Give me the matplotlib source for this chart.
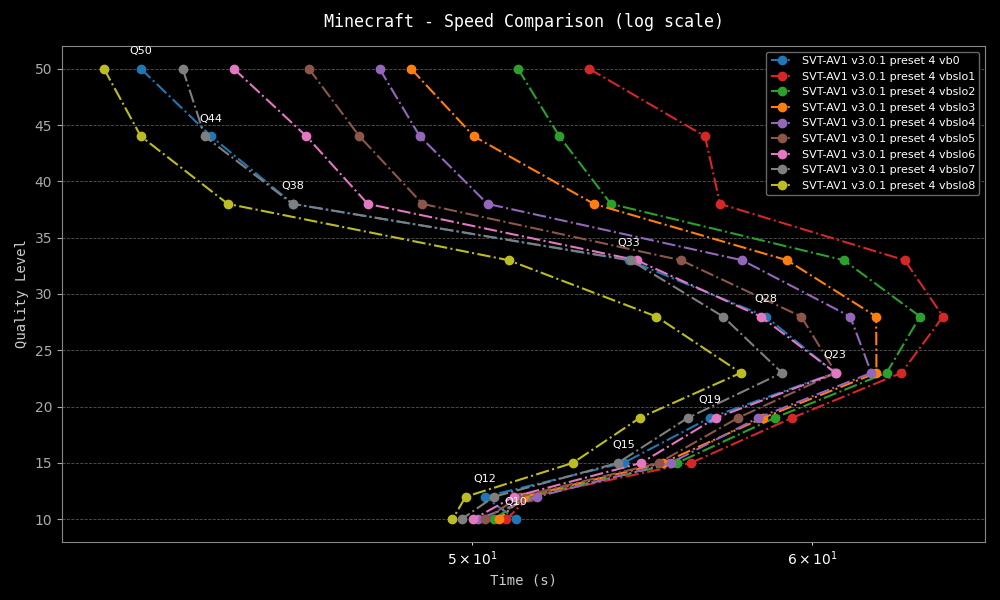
import matplotlib
matplotlib.use("Agg")
import matplotlib.pyplot as plt

# quality levels (y) shared by every encoder run
quality = [50, 44, 38, 33, 28, 23, 19, 15, 12, 10]

# encode times in seconds
vb0 = [41.85, 43.46, 45.41, 54.38, 58.53, 60.74, 56.79, 54.23, 50.33, 51.18]
vbslo1 = [53.23, 56.65, 57.11, 63.06, 64.37, 62.95, 59.36, 56.22, 51.56, 50.92]
vbslo2 = [51.24, 52.39, 53.86, 61.03, 63.58, 62.45, 58.81, 55.81, 51.48, 50.58]
vbslo3 = [48.38, 50.04, 53.37, 59.20, 62.10, 62.11, 58.44, 55.38, 51.40, 50.71]
vbslo4 = [47.57, 48.61, 50.41, 57.79, 61.24, 61.94, 58.28, 55.62, 51.76, 50.14]
vbslo5 = [45.80, 47.06, 48.68, 55.92, 59.65, 60.77, 57.66, 55.26, 51.29, 50.33]
vbslo6 = [43.99, 45.74, 47.27, 54.61, 58.37, 60.76, 56.98, 54.74, 51.12, 50.02]
vbslo7 = [42.80, 43.31, 45.40, 54.43, 57.20, 59.04, 56.13, 54.06, 50.58, 49.71]
vbslo8 = [41.03, 41.85, 43.85, 50.98, 55.19, 57.75, 54.70, 52.77, 49.82, 49.47]

names = ["vb0", "vbslo1", "vbslo2", "vbslo3", "vbslo4",
         "vbslo5", "vbslo6", "vbslo7", "vbslo8"]
series = [vb0, vbslo1, vbslo2, vbslo3, vbslo4, vbslo5, vbslo6, vbslo7, vbslo8]
colors = ["#1f77b4", "#d62728", "#2ca02c", "#ff7f0e", "#9467bd",
          "#8c564b", "#e377c2", "#7f7f7f", "#bcbd22"]

plt.style.use("dark_background")
fig, ax = plt.subplots(figsize=(10, 6), dpi=100)
fig.subplots_adjust(left=0.062, right=0.985, top=0.923, bottom=0.097)

for name, times, c in zip(names, series, colors):
    ax.plot(times, quality, linestyle="-.", marker="o", markersize=6,
            linewidth=1.5, color=c, label="SVT-AV1 v3.0.1 preset 4 " + name)

# Q labels sit above the vb0 points
for t, q in zip(vb0, quality):
    ax.annotate("Q%d" % q, (t, q), xytext=(0, 9), textcoords="offset points",
                ha="center", va="bottom", fontsize=8, color="white")

ax.set_xscale("log")
ax.set_title("Minecraft - Speed Comparison (log scale)", family="monospace",
             fontsize=12, pad=14)
ax.set_xlabel("Time (s)", family="monospace", fontsize=10, color="#cccccc")
ax.set_ylabel("Quality Level", family="monospace", fontsize=10, color="#cccccc")
ax.grid(axis="y", linestyle="--", linewidth=0.6, color="#555555")
ax.tick_params(colors="#aaaaaa")
for s in ax.spines.values():
    s.set_color("#888888")

leg = ax.legend(loc="upper right", fontsize=8, facecolor="black",
                edgecolor="#666666", framealpha=1)

fig.savefig("out.png", dpi=100)
